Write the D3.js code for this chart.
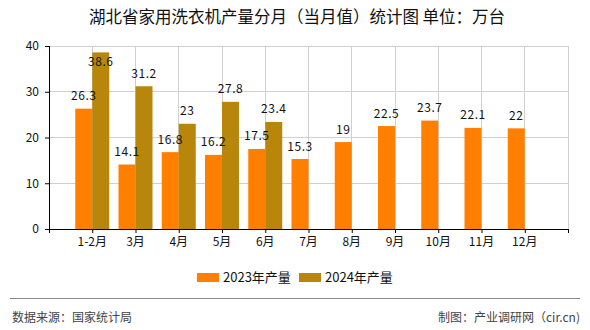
<!DOCTYPE html>
<html><head><meta charset="utf-8">
<script src="https://cdn.jsdelivr.net/npm/d3@7/dist/d3.min.js"></script>
<style>
html,body{margin:0;padding:0;background:#fff;}
svg{display:block;}
text{font-family:"Noto Sans CJK SC","DejaVu Sans",sans-serif;}
</style></head>
<body><svg id="c" width="590" height="330"></svg>
<script>
const categories = ["1-2月","3月","4月","5月","6月","7月","8月","9月","10月","11月","12月"];
const values2023 = [26.3,14.1,16.8,16.2,17.5,15.3,19,22.5,23.7,22.1,22];
const values2024 = [38.6,31.2,23,27.8,23.4,null,null,null,null,null,null];
const seriesNames = ["2023年产量","2024年产量"];
const yTicks = [0,10,20,30,40];
const titleText = "湖北省家用洗衣机产量分月（当月值）统计图 单位：万台";
const sourceText = "数据来源：国家统计局";
const creditText = "制图：产业调研网（cir.cn)";

const colors = ["#FF8000","#B8860B"];
const svg = d3.select("#c");
const L = 49, R = 568, T = 46, B = 229;

// "" at the left edge, categories at slots 1..11, " " at the right edge
const x = d3.scalePoint().domain(["", ...categories, " "]).range([L, R]);
const y = d3.scaleLinear().domain([0,40]).range([B,T]);

// title
svg.append("text").attr("x", 297).attr("y", 23).attr("text-anchor","middle")
  .attr("font-size", 16.5).attr("fill","#111").text(titleText);

// grid
const g = svg.append("g");
const gridX = [...categories.map(c => x(c)), x(" ")];
g.selectAll(".vg").data(gridX).enter().append("line")
  .attr("x1", d=>d).attr("x2", d=>d).attr("y1", T).attr("y2", B)
  .attr("stroke","#d0d0d0").attr("stroke-width",1).attr("shape-rendering","crispEdges");
g.selectAll(".hg").data(yTicks.slice(1)).enter().append("line")
  .attr("x1", L).attr("x2", R).attr("y1", d=>y(d)).attr("y2", d=>y(d))
  .attr("stroke","#d0d0d0").attr("stroke-width",1).attr("shape-rendering","crispEdges");

// bars
const bw = 17;
const bars = svg.append("g");
[values2023, values2024].forEach((vals, si) => {
  vals.forEach((v, i) => {
    if (v == null) return;
    const cx = x(categories[i]);
    const x0 = si === 0 ? cx - bw : cx;
    bars.append("rect").attr("x", x0).attr("y", y(v)).attr("width", bw)
      .attr("height", B - y(v)).attr("fill", colors[si]);
  });
});
// labels
[values2023, values2024].forEach((vals, si) => {
  vals.forEach((v, i) => {
    if (v == null) return;
    const cx = x(categories[i]) + (si === 0 ? -bw/2 : bw/2);
    let ly = y(v) - 13;
    if (ly < T + 8) ly = y(v) + 9;
    svg.append("text").attr("x", cx).attr("y", ly + 4.5).attr("text-anchor","middle")
      .attr("font-size", 12).attr("letter-spacing", 0.6).attr("fill","#111").text(v);
  });
});

// axes
const xAxis = d3.axisBottom(d3.scaleLinear().domain([0,12]).range([L, R]))
  .tickValues(d3.range(0,13)).tickSize(4).tickFormat("");
const xa = svg.append("g").attr("transform",`translate(0,${B})`).call(xAxis);
xa.select(".domain").attr("stroke","#000").attr("d", `M${L},0.5H${R}`);
xa.selectAll(".tick line").attr("stroke","#000");
svg.append("g").selectAll("text").data(categories).enter().append("text")
  .attr("x", d=>x(d)).attr("y", B + 17).attr("text-anchor","middle")
  .attr("font-size",12).attr("fill","#111").text(d=>d);

const yAxis = d3.axisLeft(y).tickValues(yTicks).tickSize(4).tickPadding(6);
const ya = svg.append("g").attr("transform",`translate(${L},0)`).call(yAxis);
ya.select(".domain").attr("stroke","#000").attr("d", `M0.5,${T}V${B}`);
ya.selectAll(".tick line").attr("stroke","#000");
ya.selectAll(".tick text").attr("font-size",12).attr("fill","#111")
  .attr("font-family",'"Noto Sans CJK SC",sans-serif');

// legend
const legX = [197, 299];
seriesNames.forEach((n, i) => {
  svg.append("rect").attr("x", legX[i]).attr("y", 273).attr("width", 22).attr("height", 9).attr("fill", colors[i]);
  svg.append("text").attr("x", legX[i] + 26).attr("y", 282).attr("font-size", 13).attr("fill","#111").text(n);
});

// footer
svg.append("line").attr("x1",10).attr("x2",580).attr("y1",298.5).attr("y2",298.5).attr("stroke","#888").attr("stroke-width",1);
svg.append("text").attr("x",12).attr("y",322).attr("font-size",12).attr("fill","#444").text(sourceText);
svg.append("text").attr("x",580).attr("y",322).attr("text-anchor","end").attr("font-size",12).attr("fill","#444").text(creditText);
</script></body></html>
